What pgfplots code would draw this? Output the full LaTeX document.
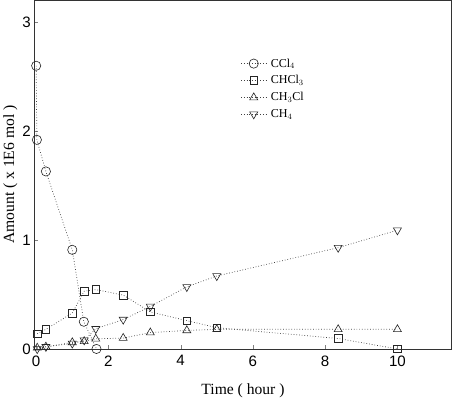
\documentclass[border=0pt]{standalone}
\usepackage{pgfplots}
\pgfplotsset{compat=1.18}
\usepackage{fontspec}
\setmainfont{Liberation Serif}
\newfontfamily\sansfont{Liberation Sans}
\begin{document}
\begin{tikzpicture}[x=1bp,y=1bp]
\begin{axis}[
  scale only axis,
  width=413bp, height=345bp,
  xmin=-0.05, xmax=11.5, ymin=0, ymax=3.2,
  xtick={0,2,4,6,8,10}, ytick={0,1,2,3},
  tick align=inside, tick pos=left,
  major tick length=4bp,
  axis line style={line width=0.8pt, black!80},
  /pgf/number format/assume math mode=true,
  tick label style={font=\sansfont\fontsize{15}{15}\selectfont},
  xticklabel style={yshift=-3bp},
  label style={font=\fontsize{15.5}{15.5}\selectfont},
  xlabel={Time ( hour )},
  ylabel={Amount ( x 1E6 mol )},
  xlabel style={yshift=-10bp},
  ylabel style={yshift=-2bp},
  clip=false,
  legend style={at={(0.487,0.845)}, anchor=north west, draw=none, fill=none,
    font=\fontsize{12}{12}\selectfont, row sep=3bp,
    nodes={inner xsep=4bp}},
  legend cell align=left,
  legend image code/.code={\draw[mark repeat=2,mark phase=2] plot coordinates {(0bp,0bp) (12.5bp,0bp) (25bp,0bp)};},
]
\addplot[black!75, dotted, line width=0.7pt,
  mark=o, mark size=4.6, mark options={solid, black!85, fill=white, line width=0.6pt}] coordinates {
  (0,2.6) (0.02,1.92) (0.27,1.63) (1.0,0.91) (1.32,0.25) (1.67,0.0)
};
\addlegendentry{CCl$_4$}
\addplot[black!75, dotted, line width=0.7pt,
  mark=square, mark size=3.8, mark options={solid, black!85, fill=white, line width=0.6pt}] coordinates {
  (0.03,0.14) (0.27,0.18) (1.0,0.33) (1.33,0.53) (1.65,0.545) (2.41,0.495)
  (3.16,0.34) (4.17,0.26) (5.0,0.195) (8.36,0.096) (10.0,0.0)
};
\addlegendentry{CHCl$_3$}
\addplot[black!75, dotted, line width=0.7pt,
  mark=triangle, mark size=4.6, mark options={solid, black!85, fill=white, line width=0.6pt}] coordinates {
  (0.03,0.01) (0.27,0.02) (1.0,0.06) (1.33,0.07) (1.65,0.093) (2.41,0.10)
  (3.16,0.15) (4.17,0.17) (5.0,0.18) (8.36,0.18) (10.0,0.18)
};
\addlegendentry{CH$_3$Cl}
\addplot[black!75, dotted, line width=0.7pt,
  mark=triangle, mark size=4.6, mark options={solid, rotate=180, black!85, fill=white, line width=0.6pt}] coordinates {
  (0.03,0.0) (0.27,0.02) (1.0,0.05) (1.33,0.08) (1.65,0.185) (2.41,0.27)
  (3.16,0.39) (4.17,0.57) (5.0,0.67) (8.36,0.93) (10.0,1.09)
};
\addlegendentry{CH$_4$}
\end{axis}
\end{tikzpicture}
\end{document}
